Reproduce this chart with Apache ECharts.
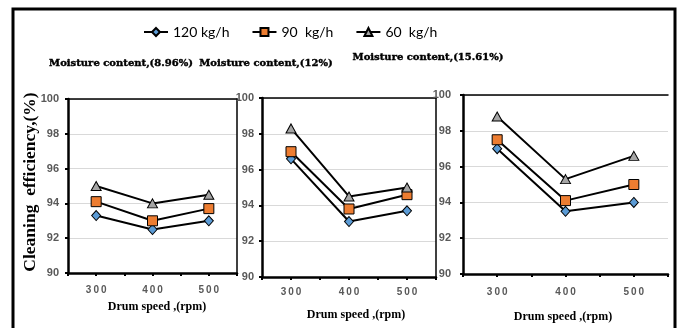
<!DOCTYPE html>
<html>
<head>
<meta charset="utf-8">
<script src="https://cdn.jsdelivr.net/npm/echarts@6/dist/echarts.min.js"></script>
<style>html,body{margin:0;padding:0;background:#fff}#c{width:682px;height:328px}</style>
</head>
<body>
<div id="c"></div>
<script>
const speeds = [300, 400, 500];
const seriesNames = ['120 kg/h', '90  kg/h', '60  kg/h'];
const panelTitles = ['Moisture content,(8.96%)', 'Moisture content,(12%)', 'Moisture content,(15.61%)'];
// panel 1: moisture 8.96%
const mc1_120 = [93.3, 92.5, 93.0];
const mc1_90  = [94.1, 93.0, 93.7];
const mc1_60  = [95.0, 94.0, 94.5];
// panel 2: moisture 12%
const mc2_120 = [96.6, 93.1, 93.7];
const mc2_90  = [97.0, 93.8, 94.6];
const mc2_60  = [98.3, 94.5, 95.0];
// panel 3: moisture 15.61%
const mc3_120 = [97.0, 93.5, 94.0];
const mc3_90  = [97.5, 94.1, 95.0];
const mc3_60  = [98.8, 95.3, 96.6];
const yTicks = [90, 92, 94, 96, 98, 100];
const xTickLabels = ['300', '400', '500'];
const yTitle = 'Cleaning  efficiency,(%)';
const xTitle = 'Drum speed ,(rpm)';

const panels = [[mc1_120, mc1_90, mc1_60], [mc2_120, mc2_90, mc2_60], [mc3_120, mc3_90, mc3_60]];

const grids = [
  {left: 68, top: 99, width: 169, height: 174},
  {left: 262, top: 98, width: 174, height: 179},
  {left: 463, top: 95, width: 205, height: 179}
];
const xLabelMargin = [12, 10, 13];
const yLabelMargin = [9, 8, 12];
const titlePos = [[116, 53], [261, 53], [423, 47]];
const xTitlePos = [[157, 307], [356, 315], [563, 317]];

const markerStyles = [
  {symbol: 'diamond', symbolSize: [9, 10], color: '#5B9BD5'},
  {symbol: 'rect', symbolSize: 10, color: '#ED7D31'},
  {symbol: 'triangle', symbolSize: [10, 9], color: '#A5A5A5'}
];

const xAxes = [], yAxes = [], series = [], titles = [], graphics = [];
grids.forEach((g, i) => {
  xAxes.push({
    gridIndex: i, type: 'value', min: 250, max: 550, interval: 50, position: 'bottom',
    axisLine: {show: true, onZero: false, lineStyle: {color: '#000', width: 2.5}},
    axisTick: {show: true, length: 3, lineStyle: {color: '#000', width: 2}},
    splitLine: {show: false},
    axisLabel: {
      margin: xLabelMargin[i], color: '#595959', fontWeight: 'bold', fontSize: 10,
      fontFamily: 'Liberation Sans, Arial, sans-serif',
      formatter: v => {
        const k = speeds.indexOf(v);
        return k >= 0 ? xTickLabels[k].split('').join('\u2009') : '';
      }
    }
  });
  xAxes.push({
    gridIndex: i, type: 'value', min: 250, max: 550, position: 'top',
    axisLine: {show: true, onZero: false, lineStyle: {color: '#000', width: 1.5}},
    axisTick: {show: false}, axisLabel: {show: false}, splitLine: {show: false}
  });
  yAxes.push({
    gridIndex: i, type: 'value', min: 90, max: 100, interval: 2, position: 'left',
    axisLine: {show: true, onZero: false, lineStyle: {color: '#000', width: 2.5}},
    axisTick: {show: true, length: 3, lineStyle: {color: '#000', width: 2}},
    splitLine: {show: true, lineStyle: {color: '#d9d9d9', width: 1}},
    axisLabel: {
      margin: yLabelMargin[i], color: '#595959', fontWeight: 'bold', fontSize: 11,
      fontFamily: 'Liberation Sans, Arial, sans-serif',
      formatter: v => yTicks.indexOf(v) >= 0 ? String(v) : ''
    }
  });
  yAxes.push({
    gridIndex: i, type: 'value', min: 90, max: 100, position: 'right',
    axisLine: {show: i < 2, onZero: false, lineStyle: {color: '#000', width: 1.5}},
    axisTick: {show: false}, axisLabel: {show: false}, splitLine: {show: false}
  });
  panels[i].forEach((vals, s) => {
    const m = markerStyles[s];
    series.push({
      name: seriesNames[s], type: 'line', xAxisIndex: i * 2, yAxisIndex: i * 2,
      data: speeds.map((x, k) => [x, vals[k]]),
      symbol: m.symbol, symbolSize: m.symbolSize,
      lineStyle: {color: '#000', width: 2},
      itemStyle: {color: m.color, borderColor: '#000', borderWidth: 1},
      z: 3 + s
    });
  });
  titles.push({
    text: panelTitles[i], left: titlePos[i][0], top: titlePos[i][1], textAlign: 'center',
    textStyle: {fontFamily: 'DejaVu Serif, serif', fontWeight: 'bold', fontSize: 10, color: '#000',
      textBorderColor: '#000', textBorderWidth: 0.4}
  });
  graphics.push({
    type: 'text', x: xTitlePos[i][0], y: xTitlePos[i][1],
    style: {text: xTitle, font: 'bold 12px "Liberation Serif", serif', fill: '#000',
      textAlign: 'center', textVerticalAlign: 'middle'}
  });
});

graphics.push({
  type: 'text', x: 30, y: 182, rotation: Math.PI / 2,
  style: {text: yTitle, font: 'bold 17.5px "Liberation Serif", serif', fill: '#000',
    textAlign: 'center', textVerticalAlign: 'middle'}
});
graphics.push({
  type: 'rect', shape: {x: 13, y: 9, width: 662, height: 330},
  style: {fill: 'none', stroke: '#000', lineWidth: 3}, z: 100
});

const chart = echarts.init(document.getElementById('c'), null, {renderer: 'canvas'});
chart.setOption({
  animation: false,
  backgroundColor: '#fff',
  title: titles,
  legend: {
    data: seriesNames, left: 138, top: 20, itemGap: 22, itemWidth: 24, itemHeight: 10,
    textStyle: {fontFamily: 'Lato, "Noto Sans", sans-serif', fontSize: 14, color: '#000'}
  },
  grid: grids,
  xAxis: xAxes,
  yAxis: yAxes,
  series: series,
  graphic: graphics
});
</script>
</body>
</html>
